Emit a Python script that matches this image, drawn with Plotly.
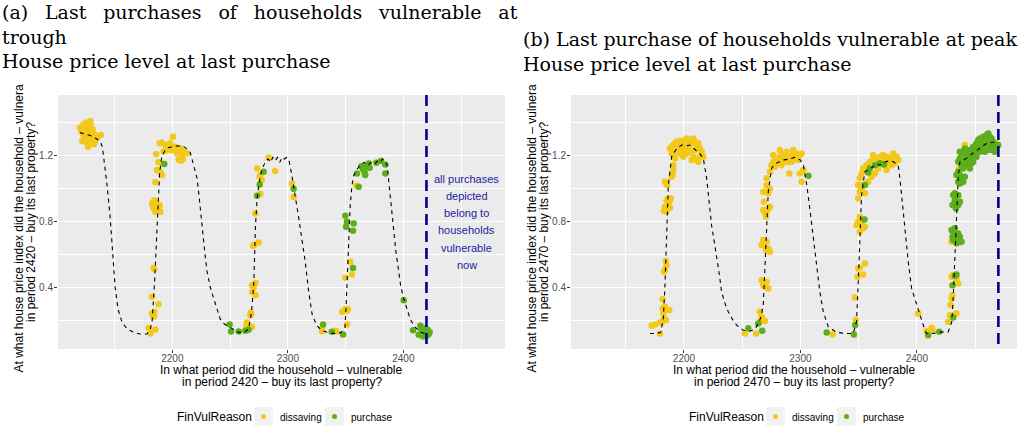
import plotly.graph_objects as go

# ---- panel (a): households vulnerable at the trough (period 2420) ----
a_now = 2420
a_price_period = [2120, 2125, 2130, 2135, 2138, 2139.5, 2141, 2143.5, 2146, 2148, 2150.5, 2153, 2156.5,
                  2161, 2166.5, 2172, 2178, 2181, 2182.5, 2184.5, 2186, 2187, 2189, 2191, 2194, 2197,
                  2201, 2205, 2210, 2213, 2215.5, 2218, 2221.5, 2223.5, 2225.5, 2228, 2230, 2233, 2236,
                  2239, 2241.5, 2245, 2250, 2254, 2257.5, 2262, 2266, 2268.5, 2270.5, 2272, 2273.5, 2275,
                  2277, 2279, 2281, 2283, 2285, 2287, 2289, 2291, 2293, 2295, 2297, 2299, 2301, 2303,
                  2305, 2307, 2309.5, 2312, 2315, 2318, 2321, 2325, 2330, 2334, 2338, 2342.5, 2346,
                  2349.5, 2350.5, 2351.5, 2352.5, 2354, 2355.5, 2357, 2360, 2363, 2366, 2369, 2372, 2375,
                  2378, 2380, 2382, 2384, 2386, 2388.5, 2390.5, 2392, 2393.5, 2395, 2397.5, 2400, 2403,
                  2406, 2409, 2412, 2415, 2418, 2420]
a_price_index = [1.34, 1.33, 1.32, 1.30, 1.28, 1.25, 1.17, 1.02, 0.84, 0.66, 0.40, 0.27, 0.19,
                 0.15, 0.13, 0.12, 0.12, 0.15, 0.20, 0.42, 0.65, 0.82, 1.10, 1.20, 1.235, 1.25,
                 1.255, 1.26, 1.255, 1.24, 1.22, 1.16, 1.06, 0.93, 0.78, 0.62, 0.50, 0.40, 0.33,
                 0.26, 0.21, 0.18, 0.16, 0.14, 0.13, 0.13, 0.15, 0.25, 0.42, 0.78, 0.95, 1.03,
                 1.10, 1.14, 1.17, 1.18, 1.16, 1.19, 1.17, 1.19, 1.16, 1.19, 1.18, 1.19, 1.17, 1.10,
                 1.02, 0.92, 0.82, 0.70, 0.56, 0.38, 0.24, 0.17, 0.14, 0.13, 0.125, 0.12, 0.13,
                 0.16, 0.30, 0.45, 0.62, 0.90, 1.02, 1.08, 1.12, 1.145, 1.16, 1.14, 1.16, 1.15,
                 1.17, 1.16, 1.18, 1.17, 1.14, 0.96, 0.82, 0.72, 0.62, 0.55, 0.42, 0.34, 0.27,
                 0.21, 0.17, 0.15, 0.13, 0.125, 0.12]
a_dissaving_period = [2120, 2123, 2125.5, 2129, 2127, 2125, 2123, 2127.5, 2130.5, 2132.5,
                      2135, 2122, 2127, 2132, 2138, 2129, 2127, 2124, 2129.6, 2133,
                      2126, 2128, 2124, 2130, 2126, 2128, 2121, 2131, 2125,
                      2189, 2191, 2194, 2197, 2198, 2200.6, 2201, 2202.6, 2199.7, 2195.4,
                      2204, 2207, 2208.4, 2210, 2212.7, 2209, 2205.5, 2207.5, 2186, 2188,
                      2186.7, 2189.6, 2191, 2185.3, 2192.5, 2196, 2203,
                      2182.4, 2184.4, 2186.7, 2189, 2183.8, 2187.3, 2189.6, 2185.3, 2183.3, 2185, 2188,
                      2183.8, 2184.4, 2182.4, 2183.8, 2182.4, 2184.4, 2183.3, 2184, 2188, 2179.5, 2181, 2185.3,
                      2273.3, 2275.6, 2276.2, 2277.4, 2271.9, 2271, 2270, 2274.7, 2269, 2270.4,
                      2271.9, 2269, 2271.9, 2267.5, 2268, 2268.4, 2269, 2264.6, 2264, 2276.2,
                      2283.4, 2289, 2303.6, 2305,
                      2329.6, 2329.6, 2342, 2351.2, 2347, 2349.8, 2351, 2352, 2349.8, 2354, 2355.6, 2359.3, 2341]
a_dissaving_price = [1.37, 1.39, 1.40, 1.41, 1.365, 1.335, 1.325, 1.325, 1.345, 1.33,
                     1.31, 1.29, 1.275, 1.27, 1.325, 1.39, 1.255, 1.305, 1.30, 1.285,
                     1.35, 1.34, 1.36, 1.32, 1.31, 1.29, 1.35, 1.36, 1.285,
                     1.275, 1.28, 1.265, 1.255, 1.275, 1.315, 1.245, 1.255, 1.235, 1.235,
                     1.215, 1.245, 1.205, 1.225, 1.215, 1.18, 1.175, 1.17, 1.21, 1.16,
                     1.113, 1.10, 1.083, 1.04, 1.225, 1.25, 1.23,
                     0.91, 0.93, 0.91, 0.90, 0.88, 0.87, 0.86, 0.86, 0.897, 0.895, 0.885,
                     0.52, 0.513, 0.345, 0.24, 0.244, 0.255, 0.234, 0.225, 0.30, 0.158, 0.123, 0.147,
                     1.123, 1.073, 1.083, 1.053, 0.85, 0.66, 0.655, 0.675, 0.416, 0.40,
                     0.355, 0.375, 0.43, 0.234, 0.25, 0.24, 0.164, 0.19, 0.17, 0.97,
                     1.188, 1.107, 1.032, 0.95,
                     0.153, 0.137, 0.137, 0.178, 0.255, 0.27, 0.26, 0.27, 0.46, 0.558, 0.48, 1.02, 0.14]
a_purchase_period = [2193, 2249.6, 2250.8, 2257.4, 2263.2, 2266, 2279, 2275.6, 2273.3, 2305,
                     2330.5, 2338, 2347.8, 2356.4, 2349.8, 2351.2, 2350.4, 2357, 2356.4, 2359.9,
                     2361.3, 2363.6, 2366.5, 2367, 2368.5, 2370, 2370.8, 2376.6, 2380.7, 2384.4,
                     2384.4, 2365, 2400.3, 2408.4,
                     2414.7, 2416, 2417.6, 2419, 2420.5, 2422, 2413.3, 2417.6, 2417, 2420,
                     2422.8, 2415.5, 2418.5, 2421]
a_purchase_price = [1.15, 0.178, 0.135, 0.135, 0.14, 0.145, 1.103, 1.026, 0.958, 1.0,
                    0.178, 0.133, 0.117, 0.52, 0.836, 0.80, 0.77, 0.79, 0.746, 1.093,
                    1.012, 1.137, 1.099, 1.083, 1.133, 1.153, 1.127, 1.157, 1.168, 1.147,
                    1.093, 1.12, 0.325, 0.143,
                    0.17, 0.13, 0.12, 0.14, 0.11, 0.12, 0.115, 0.155, 0.105, 0.13,
                    0.13, 0.15, 0.125, 0.145]

# ---- panel (b): households vulnerable at the peak (period 2470) ----
b_now = 2470
b_price_period = [2170.8, 2176.5, 2180, 2182.3, 2183.7, 2185, 2186.6, 2189.4, 2193.7, 2198, 2202, 2205,
                  2208, 2211, 2214, 2216.6, 2218, 2219.5, 2221.5, 2223.7, 2226, 2228, 2230, 2232.3,
                  2235, 2238, 2241.5, 2245.2, 2251, 2256.6, 2261, 2263.8, 2266, 2268.1, 2269.5, 2271,
                  2272.4, 2275.2, 2278, 2282, 2286, 2291, 2295, 2299.8, 2302.6, 2304, 2305.5, 2308.4,
                  2311.2, 2314, 2316.7, 2319.6, 2323.9, 2331, 2339.6, 2345.3, 2348.2, 2349.6, 2351,
                  2352.5, 2355.3, 2359, 2362.5, 2365, 2368.2, 2371, 2374, 2377, 2379.7, 2384, 2385.5,
                  2386.8, 2389.7, 2391.2, 2392.6, 2395.5, 2399.8, 2402.6, 2405.5, 2408.3, 2414, 2418,
                  2422.6, 2426.9, 2430, 2431.2, 2432.6, 2434, 2435.5, 2437, 2442.6, 2447, 2451.2, 2455,
                  2459.8, 2464, 2468.4]
b_price_index = [0.123, 0.123, 0.13, 0.214, 0.416, 0.76, 1.02, 1.194, 1.244, 1.265, 1.26, 1.265,
                 1.245, 1.224, 1.21, 1.184, 1.12, 1.063, 0.93, 0.78, 0.68, 0.60, 0.50, 0.376,
                 0.31, 0.255, 0.21, 0.174, 0.143, 0.137, 0.15, 0.184, 0.22, 0.295, 0.497, 0.78,
                 0.982, 1.123, 1.15, 1.164, 1.175, 1.18, 1.19, 1.174, 1.143, 1.08, 1.022, 0.86,
                 0.70, 0.537, 0.376, 0.255, 0.164, 0.13, 0.123, 0.123, 0.194, 0.416, 0.72,
                 0.96, 1.103, 1.12, 1.133, 1.15, 1.143, 1.16, 1.164, 1.17, 1.164, 1.143, 1.06,
                 0.96, 0.78, 0.638, 0.558, 0.396, 0.295, 0.234, 0.174, 0.123, 0.123, 0.128,
                 0.133, 0.133, 0.194, 0.335, 0.558, 0.82, 1.063, 1.164, 1.184, 1.21, 1.234, 1.25,
                 1.275, 1.28, 1.285]
b_dissaving_period = [2172.2, 2175.1, 2179.4, 2179.4, 2180.8, 2181.7, 2182.3, 2183.7, 2185.1, 2187.4, 2182.8, 2184.5, 2181.7,
                      2183.7, 2185.1, 2182.8, 2184.5,
                      2183.7, 2186.6, 2185.1, 2188.0, 2182.8, 2187.4, 2186.6, 2185.1, 2188.6, 2183.7, 2185.1, 2185.7, 2189.4, 2190.8,
                      2188.0, 2189.4, 2190.8, 2192.3, 2193.7, 2195.1, 2196.6, 2198.0, 2199.4, 2200.9,
                      2202.3, 2203.7, 2205.2, 2206.6, 2208.0, 2209.4, 2210.9, 2212.3, 2213.7, 2215.2,
                      2216.6, 2190.8, 2193.7, 2196.6, 2199.4, 2202.3, 2205.2, 2208.0, 2210.9, 2212.3,
                      2206.6, 2195.1, 2200.9, 2192.3, 2189.4, 2198.0, 2209.4, 2203.7, 2213.7, 2190.8, 2190.3,
                      2252.4, 2262.0,
                      2265.2, 2266.7, 2268.1, 2269.5, 2265.2,
                      2266.7, 2268.1, 2271.0, 2272.4, 2269.5,
                      2268.1, 2269.5, 2271.0, 2272.4, 2266.7, 2273.8, 2270.4,
                      2268.1, 2269.5, 2271.0, 2272.4, 2270.4, 2273.8, 2268.7,
                      2269.5, 2271.0, 2272.4, 2273.8, 2268.1,
                      2271.0, 2273.8, 2275.2, 2276.7, 2279.5, 2282.4, 2285.3, 2288.1, 2291.0, 2293.8,
                      2296.7, 2299.6, 2301.0, 2278.1, 2281.0, 2283.8, 2286.7, 2289.6, 2292.4, 2295.3,
                      2298.1, 2276.7, 2290.4, 2299.6, 2301.0, 2302.5, 2282.4, 2288.1, 2293.8, 2285.3,
                      2327.6, 2347.6, 2346.8,
                      2349.0, 2351.0, 2353.9, 2349.6, 2355.4,
                      2349.6, 2351.0, 2352.5, 2353.9, 2351.0, 2355.4, 2348.2,
                      2349.6, 2351.0, 2352.5, 2353.9, 2349.6, 2351.0, 2352.5, 2353.9, 2356.8, 2359.7,
                      2362.5, 2365.4, 2368.2, 2371.1, 2374.0, 2376.8, 2379.7, 2382.6, 2384.0, 2372.5,
                      2366.8, 2364.0, 2361.1, 2369.7, 2375.4, 2378.3, 2355.4, 2358.2, 2374.0, 2379.1,
                      2381.1, 2362.5, 2372.5,
                      2401.2, 2408.3, 2412.6, 2413.4, 2426.9, 2428.3, 2428.9, 2429.8, 2430.6, 2432.6,
                      2434.0, 2429.8, 2431.2, 2434.0, 2435.5, 2436.9, 2429.8, 2435.5,
                      2441.2, 2447.6, 2436.3, 2468.4, 2439.2]
b_dissaving_price = [0.17, 0.178, 0.123, 0.19, 0.19, 0.275, 0.244, 0.285, 0.265, 0.265, 0.214, 0.204, 0.331,
                     0.507, 0.537, 0.497, 0.562,
                     0.891, 0.885, 0.861, 0.885, 0.865, 0.921, 0.941, 0.931, 0.941, 1.042, 1.032, 1.022, 1.073, 1.113,
                     1.244, 1.255, 1.265, 1.275, 1.285, 1.269, 1.289, 1.275, 1.265, 1.295,
                     1.305, 1.285, 1.269, 1.295, 1.305, 1.285, 1.265, 1.275, 1.244, 1.224,
                     1.194, 1.204, 1.224, 1.214, 1.194, 1.214, 1.224, 1.194, 1.174, 1.164,
                     1.174, 1.234, 1.234, 1.184, 1.214, 1.244, 1.234, 1.244, 1.194, 1.143, 1.083,
                     0.123, 0.123,
                     0.194, 0.224, 0.204, 0.198, 0.255,
                     0.446, 0.416, 0.436, 0.396, 0.406,
                     0.689, 0.659, 0.679, 0.638, 0.659, 0.618, 0.628,
                     0.871, 0.851, 0.861, 0.881, 0.83, 0.891, 0.921,
                     0.982, 1.022, 0.972, 1.002, 0.982,
                     1.063, 1.103, 1.143, 1.164, 1.174, 1.194, 1.204, 1.184, 1.194, 1.204,
                     1.214, 1.204, 1.214, 1.133, 1.154, 1.143, 1.168, 1.16, 1.164, 1.18,
                     1.174, 1.204, 1.093, 1.093, 1.042, 1.113, 1.234, 1.224, 1.234, 1.164,
                     0.117, 0.204, 0.341,
                     0.467, 0.521, 0.481, 0.517, 0.547,
                     0.80, 0.83, 0.78, 0.76, 0.739, 0.77, 0.78,
                     0.941, 0.982, 1.002, 1.022, 1.022, 1.063, 1.093, 1.123, 1.143, 1.164,
                     1.184, 1.174, 1.194, 1.204, 1.194, 1.184, 1.214, 1.194, 1.174, 1.143,
                     1.123, 1.093, 1.073, 1.154, 1.164, 1.143, 0.972, 1.042, 1.113, 1.174,
                     1.154, 1.204, 1.174,
                     0.244, 0.137, 0.158, 0.143, 0.194, 0.234, 0.295, 0.335, 0.355, 0.238,
                     0.244, 0.467, 0.477, 0.457, 0.426, 0.675, 0.679, 0.945,
                     1.265, 1.168, 1.123, 1.275, 1.218]
b_purchase_period = [2255.2, 2263.8, 2267.2, 2306.8, 2322.5, 2345.9, 2347.1, 2355.0, 2355.4, 2358.2,
                     2359.7, 2364.0, 2368.2, 2371.7, 2409.7, 2419.2, 2431.2, 2430.6, 2432.6, 2434.0,
                     2429.8, 2431.2, 2432.6, 2434.0, 2435.5, 2436.9, 2438.4, 2431.2, 2434.0, 2430.6, 2432.6, 2435.5,
                     2431.2, 2432.6, 2434.0, 2435.5, 2436.9, 2433.5, 2435.5, 2432.6, 2430.6,
                     2434.0, 2435.5, 2436.9, 2438.4, 2439.8, 2436.9, 2441.2, 2435.5,
                     2435.5, 2436.9, 2438.4, 2439.8, 2441.2, 2442.7, 2444.1, 2445.5, 2447.0, 2448.4,
                     2449.8, 2451.2, 2452.7, 2454.1, 2455.6, 2457.0, 2458.4, 2459.8, 2461.3, 2462.7,
                     2464.1, 2465.5, 2467.0, 2468.4, 2469.8, 2442.7, 2445.5, 2448.4, 2451.2, 2454.1,
                     2457.0, 2459.8, 2462.7, 2465.5, 2467.0, 2439.8, 2444.1, 2449.8, 2455.6, 2461.3,
                     2464.1, 2452.7, 2447.0, 2458.4, 2441.2, 2438.4, 2454.1, 2462.7, 2436.9, 2448.4]
b_purchase_price = [0.154, 0.184, 0.14, 1.079, 0.129, 0.117, 0.174, 0.814, 1.022, 1.099,
                    1.123, 1.143, 1.154, 1.147, 0.113, 0.133, 0.22, 0.416, 0.473, 0.481,
                    0.75, 0.739, 0.719, 0.699, 0.729, 0.709, 0.679, 0.689, 0.669, 0.709, 0.76, 0.679,
                    0.962, 0.931, 0.911, 0.901, 0.921, 0.881, 0.962, 0.972, 0.901,
                    1.083, 1.103, 1.083, 1.063, 1.042, 1.032, 1.073, 1.042,
                    1.164, 1.184, 1.204, 1.224, 1.174, 1.194, 1.214, 1.234, 1.194, 1.224,
                    1.255, 1.275, 1.295, 1.305, 1.285, 1.315, 1.305, 1.325, 1.335, 1.315,
                    1.305, 1.285, 1.265, 1.255, 1.265, 1.143, 1.123, 1.164, 1.194, 1.224,
                    1.244, 1.265, 1.275, 1.244, 1.224, 1.123, 1.164, 1.214, 1.255, 1.295,
                    1.255, 1.244, 1.154, 1.224, 1.244, 1.143, 1.265, 1.234, 1.224, 1.255]

x_ticks = [2200, 2300, 2400]
x_minor = [2150, 2250, 2350, 2450]
y_ticks = [0.4, 0.8, 1.2]
y_minor = [0.2, 0.6, 1.0, 1.4]
note_lines = ["all purchases", "depicted", "belong to", "households", "vulnerable", "now"]
reasons = ["dissaving", "purchase"]

YELLOW = '#F2C81A'
GREEN = '#5EAD1B'
NAVY = '#00008B'
SANS = 'Liberation Sans, Arial, sans-serif'
SERIF = 'DejaVu Serif, serif'
W, H = 1031, 431


def px_x(p):
    return p / W


def px_y(p):
    return 1 - p / H


def add_panel(fig, n, periods, index, dis_x, dis_y, pur_x, pur_y, now):
    xa = 'x' if n == 1 else 'x2'
    ya = 'y' if n == 1 else 'y2'
    fig.add_trace(go.Scatter(x=dis_x, y=dis_y, mode='markers', xaxis=xa, yaxis=ya,
                             marker=dict(color=YELLOW, size=6.5, line_width=0), showlegend=False))
    fig.add_trace(go.Scatter(x=pur_x, y=pur_y, mode='markers', xaxis=xa, yaxis=ya,
                             marker=dict(color=GREEN, size=6.5, line_width=0), showlegend=False))
    fig.add_trace(go.Scatter(x=periods, y=index, mode='lines', xaxis=xa, yaxis=ya,
                             line=dict(color='black', width=1.1, dash='4px,4px'), showlegend=False))
    fig.add_shape(type='line', xref=xa, yref=ya + ' domain', x0=now, x1=now, y0=1, y1=0,
                  line=dict(color=NAVY, width=2.6, dash='11px,6px'))


def axis_style(ticks, minor, rng, domain, standoff):
    return dict(range=rng, domain=domain, tickvals=ticks, showgrid=True, gridcolor='white',
                gridwidth=1.1, zeroline=False, ticks='outside', ticklen=3, tickwidth=1.1,
                tickcolor='#333333', tickfont=dict(family=SANS, size=10, color='#4D4D4D'),
                ticklabelstandoff=standoff,
                minor=dict(tickvals=minor, showgrid=True, gridcolor='white', gridwidth=0.55, ticks=''),
                showline=False)


def text(x, y, s, size=12, **kw):
    d = dict(x=x, y=y, xref='paper', yref='paper', showarrow=False, text=s,
             xanchor='center', yanchor='middle', font=dict(family=SANS, size=size, color='black'))
    d.update(kw)
    return d


fig = go.Figure()
add_panel(fig, 1, a_price_period, a_price_index, a_dissaving_period, a_dissaving_price,
          a_purchase_period, a_purchase_price, a_now)
add_panel(fig, 2, b_price_period, b_price_index, b_dissaving_period, b_dissaving_price,
          b_purchase_period, b_purchase_price, b_now)

ydom = [px_y(349), px_y(95)]
fig.update_layout(
    width=W, height=H, autosize=False,
    margin=dict(l=0, r=0, t=0, b=0),
    paper_bgcolor='white', plot_bgcolor='#EBEBEB',
    xaxis=axis_style(x_ticks, x_minor, [2101, 2488], [px_x(58), px_x(505)], -3),
    yaxis=axis_style(y_ticks, y_minor, [0.029, 1.568], ydom, -1),
    xaxis2=dict(axis_style(x_ticks, x_minor, [2103, 2486], [px_x(571), px_x(1017)], -3), anchor='y2'),
    yaxis2=dict(axis_style(y_ticks, y_minor, [0.029, 1.568], ydom, -1), anchor='x2'),
)

ann = []
gap = '\u00a0\u2005 '
serif = dict(family=SERIF, size=19, color='black')
ann.append(text(0, 1, gap.join(['(a)', 'Last', 'purchases', 'of', 'households', 'vulnerable', 'at'])
                + '<br>trough<br>House price level at last purchase',
                xanchor='left', yanchor='top', align='left', font=serif, yshift=1))
ann.append(text(px_x(521), px_y(27), '(b) Last purchase of households vulnerable at peak'
                '<br>House price level at last purchase',
                xanchor='left', yanchor='top', align='left', font=serif, yshift=1))

panels = [(58, 505, a_now), (571, 1017, b_now)]
legend_pos = [175, 687]
for (left, right, now), lx in zip(panels, legend_pos):
    cx = (left + right) / 2
    # axis titles
    ann.append(text(px_x(cx), px_y(370), 'In what period did the household \u2013 vulnerable'))
    ann.append(text(px_x(cx), px_y(382), 'in period %d \u2013 buy its last property?' % now))
    ann.append(text(px_x(left - 40), px_y(375), 'At what house price index did the household \u2013 vulnera',
                    yanchor='bottom', textangle=-90))
    ann.append(text(px_x(left - 27), px_y(222), 'in period %d \u2013 buy its last property?' % now,
                    textangle=-90))
    # legend
    ann.append(text(px_x(lx), px_y(417), 'FinVulReason', xanchor='left'))
    kx = lx + 79
    for reason, col in zip(reasons, [YELLOW, GREEN]):
        fig.add_shape(type='rect', xref='paper', yref='paper', x0=px_x(kx), x1=px_x(kx + 19),
                      y0=px_y(426), y1=px_y(407), fillcolor='#F2F2F2', line_width=0)
        fig.add_shape(type='circle', xref='paper', yref='paper', x0=px_x(kx + 7), x1=px_x(kx + 12),
                      y0=px_y(419), y1=px_y(414), fillcolor=col, line_width=0)
        ann.append(text(px_x(kx + 24), px_y(417), reason, size=10, xanchor='left'))
        kx += 71

# note next to the "now" line in panel (a)
for i, line in enumerate(note_lines):
    ann.append(dict(x=2455, y=0.8, xref='x', yref='y', showarrow=False, text=line,
                    xanchor='center', yanchor='middle', yshift=(2.5 - i) * 17.3,
                    font=dict(family=SANS, size=11, color='#23239E')))

fig.update_layout(annotations=ann)
# the page body keeps its default 8px margin otherwise
fig.write_html("out.html", config={'displayModeBar': False},
               post_script="document.body.style.margin = '0';")
